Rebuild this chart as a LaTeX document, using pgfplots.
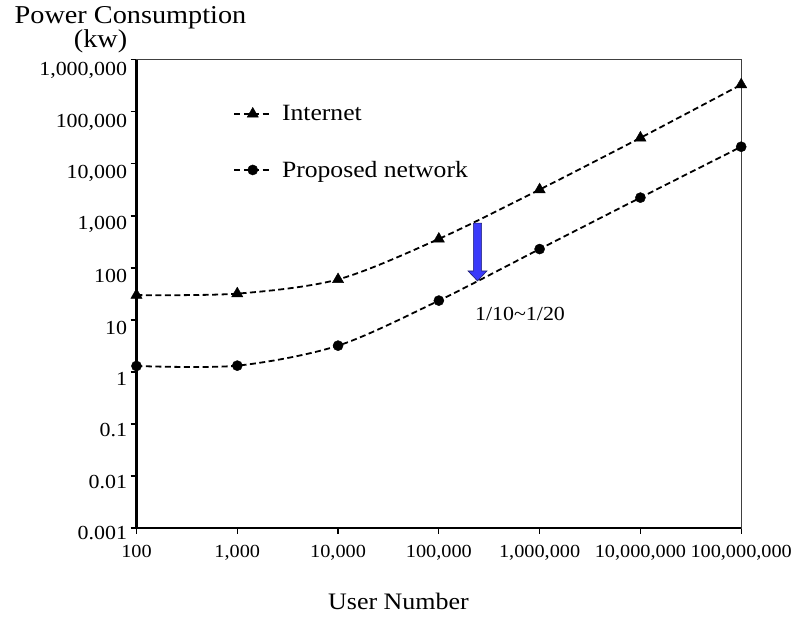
\documentclass[border=0pt]{standalone}
\usepackage{fontspec}
\setmainfont{Liberation Serif}[FakeStretch=1.1]
\usepackage{pgfplots}
\pgfplotsset{compat=1.18}
\definecolor{arrowblue}{RGB}{58,58,250}
\definecolor{arrowedge}{RGB}{30,30,110}
\begin{document}
\begin{tikzpicture}
\useasboundingbox (-137pt,-89pt) rectangle (657pt,530pt);
\begin{loglogaxis}[
  at={(0pt,0pt)}, anchor=south west,
  scale only axis, width=607pt, height=470pt,
  xmin=100, xmax=1e8, ymin=0.001, ymax=1e6,
  xtick={1e2,1e3,1e4,1e5,1e6,1e7,1e8},
  xticklabels={100,{1,000},{10,000},{100,000},{1,000,000},{10,000,000},{100,000,000}},
  ytick={1e-3,1e-2,1e-1,1,10,100,1e3,1e4,1e5,1e6},
  yticklabels={0.001,0.01,0.1,1,10,100,{1,000},{10,000},{100,000},{1,000,000}},
  minor tick style={draw=none},
  tick align=outside, tick pos=left,
  major tick length=6pt,
  tick style={black, line width=1.3pt},
  axis line style={line width=1.2pt, black!75},
  yticklabel style={font=\fontsize{20}{24}\selectfont, yshift={-5pt-0.667pt*\ticknum}},
  xticklabel style={font=\fontsize{18.5}{22}\selectfont, yshift=-8pt},
  legend style={at={(axis description cs:0.16,0.907)}, anchor=north west, draw=none, fill=none,
    font=\fontsize{23.4}{28}\selectfont, row sep=35pt, inner sep=0pt, cells={anchor=west}},
  legend image code/.code={\draw[mark repeat=2,mark phase=2,#1] plot coordinates {(0pt,0pt) (18.5pt,0pt) (37pt,0pt)};},
]
\addplot[black, line width=1.8pt, dash pattern=on 6pt off 3.5pt, smooth, mark=triangle*, mark size=6.5pt, mark options={solid, line width=0.4pt}]
  coordinates {(100,30) (1000,32) (10000,60) (100000,360) (1000000,3200) (10000000,31600) (100000000,333000)};
\addlegendentry{\hspace{8pt}Internet}
\addplot[black, line width=1.8pt, dash pattern=on 6pt off 3.5pt, smooth, mark=*, mark size=5.1pt, mark options={solid, line width=0.4pt}]
  coordinates {(100,1.3) (1000,1.32) (10000,3.2) (100000,23.5) (1000000,230) (10000000,2240) (100000000,21300)};
\addlegendentry{\hspace{8pt}Proposed network}
\end{loglogaxis}
\draw[black, line width=2.3pt] (0pt,470pt) -- (0pt,0pt) -- (607pt,0pt);
\draw[fill=arrowblue, draw=arrowedge, line width=0.6pt]
  (338.1pt,306pt) -- (346.5pt,306pt) -- (346.5pt,258pt) -- (351.8pt,258pt) -- (342.3pt,248pt) -- (332.8pt,258pt) -- (338.1pt,258pt) -- cycle;
\node[font=\fontsize{20}{24}\selectfont] at (385pt,215pt) {1/10\textasciitilde 1/20};
\node[font=\fontsize{25.8}{30}\selectfont] at (-6pt,512pt) {Power Consumption};
\node[font=\fontsize{25.8}{30}\selectfont] at (-36pt,489pt) {(kw)};
\node[font=\fontsize{23.7}{28}\selectfont] at (263pt,-74pt) {User Number};
\end{tikzpicture}
\end{document}
